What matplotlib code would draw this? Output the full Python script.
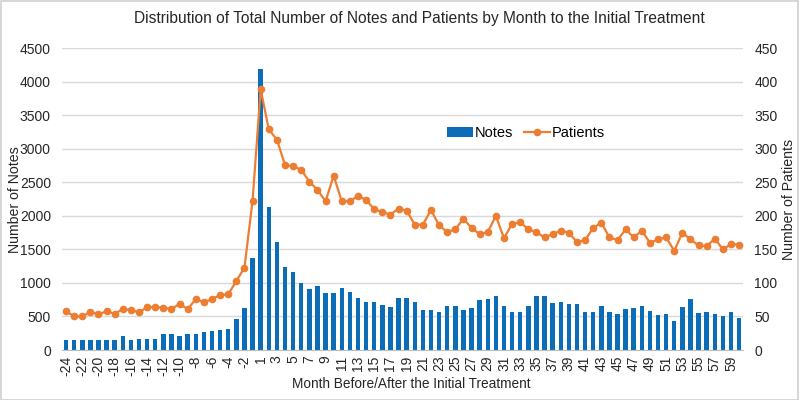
import matplotlib
matplotlib.use("Agg")
import matplotlib.pyplot as plt
from matplotlib.patches import Rectangle

months = list(range(-24, 0)) + list(range(1, 61))

notes = [154, 144, 154, 154, 144, 144, 144, 204, 154, 164, 169, 169,
         234, 234, 209, 239, 239, 263, 288, 298, 313, 457, 631, 1367,
         4200, 2132, 1610, 1237, 1170, 994, 914, 954, 845, 850, 920, 860,
         770, 713, 713, 664, 636, 770, 780, 711, 596, 603, 572, 651,
         663, 596, 626, 740, 760, 805, 663, 572, 572, 651, 805, 812,
         698, 723, 684, 684, 565, 572, 661, 560, 535, 611, 621, 661,
         581, 520, 532, 440, 643, 760, 547, 562, 537, 512, 562, 482]

patients = [58, 50, 50, 57, 53, 58, 54, 61, 60, 56, 64, 64,
            63, 61, 69, 61, 76, 71, 76, 82, 83, 103, 123, 223,
            389, 329, 314, 276, 274, 269, 251, 239, 222, 260, 222, 222,
            230, 224, 210, 206, 202, 211, 208, 187, 187, 209, 186, 176,
            180, 196, 182, 173, 176, 200, 167, 188, 191, 180, 176, 168,
            173, 178, 175, 161, 164, 182, 190, 168, 164, 180, 168, 178,
            160, 165, 168, 148, 175, 165, 156, 155, 166, 150, 158, 157]

left_ticks = list(range(0, 4501, 500))
right_ticks = list(range(0, 451, 50))

title = "Distribution of Total Number of Notes and Patients by Month to the Initial Treatment"

plt.rcParams['font.family'] = ['Liberation Sans', 'DejaVu Sans']

BLUE = '#0B6DB7'
ORANGE = '#ED7D31'
GRID = '#D9D9D9'
TXT = '#262626'

fig = plt.figure(figsize=(8, 4), dpi=100)
fig.patches.append(Rectangle((0.001, 0.001), 0.997, 0.997, transform=fig.transFigure,
                             fill=False, edgecolor='#D0D0D0', linewidth=1.2))
ax = fig.add_axes([0.0775, 0.125, 0.8515, 0.754])
x = list(range(len(months)))

bars = ax.bar(x, notes, width=0.55, color=BLUE, label='Notes', zorder=2)
ax.set_ylim(0, 4500)
ax.set_xlim(-0.5, len(months) - 0.5)
ax.set_yticks(left_ticks)
ax.yaxis.grid(True, color=GRID, linewidth=1, zorder=0)
ax.set_axisbelow(True)
for s in ['top', 'right', 'left']:
    ax.spines[s].set_visible(False)
ax.spines['bottom'].set_color('#BFBFBF')
ax.set_xticks(x[::2])
ax.set_xticklabels([str(m) for m in months[::2]], rotation=90, fontsize=10, color=TXT)
ax.tick_params(axis='both', length=0, labelsize=10, colors=TXT)
ax.tick_params(axis='x', pad=4)
ax.tick_params(axis='y', pad=8)
ax.set_ylabel('Number of Notes', fontsize=10.2, color=TXT)
ax.yaxis.set_label_coords(-0.059, 0.5)
ax.set_xlabel('Month Before/After the Initial Treatment', fontsize=9.8, color=TXT)
ax.xaxis.set_label_coords(0.5125, -0.09)

ax2 = ax.twinx()
line, = ax2.plot(x, patients, color=ORANGE, marker='o', markersize=4.5,
                 linewidth=1.6, label='Patients', zorder=3)
ax2.set_ylim(0, 450)
ax2.set_yticks(right_ticks)
for s in ['top', 'right', 'left', 'bottom']:
    ax2.spines[s].set_visible(False)
ax2.tick_params(axis='y', length=0, labelsize=10, colors=TXT, pad=8)
ax2.set_ylabel('Number of Patients', fontsize=10.2, color=TXT, labelpad=3)

fig.legend([bars, line], ['Notes', 'Patients'], loc='center',
           bbox_to_anchor=(526 / 800, 1 - 133 / 400), ncol=2, frameon=False,
           fontsize=10.5, handlelength=1.8, handletextpad=0.15, columnspacing=0.7)

fig.text(419 / 800, 1 - 19 / 400, title, ha='center', va='center', fontsize=11.2, color=TXT)

fig.savefig('out.png', dpi=100)
